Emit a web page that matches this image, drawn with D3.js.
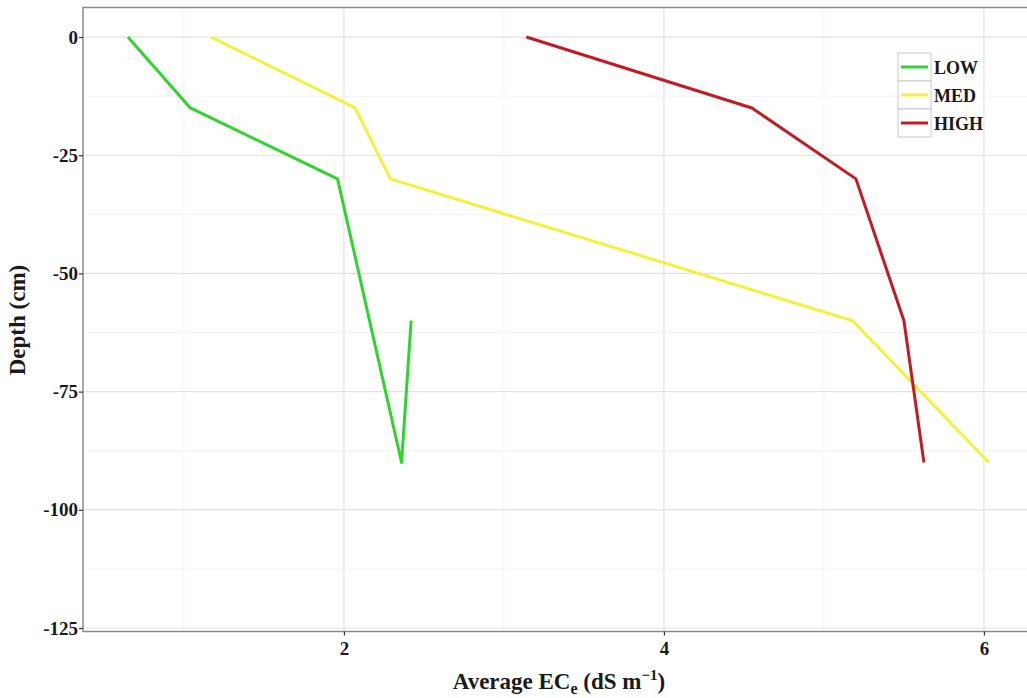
<!DOCTYPE html>
<html>
<head>
<meta charset="utf-8">
<script src="https://cdn.jsdelivr.net/npm/d3@7"></script>
<style>
  html, body { margin: 0; padding: 0; background: #fff; }
  svg text { font-family: "Liberation Serif", "Times New Roman", serif; font-weight: bold; fill: #1a1a1a; }
</style>
</head>
<body>
<svg id="chart" width="1027" height="698"></svg>
<script>
// Salinity profiles: average ECe by depth for three salinity classes
const seriesNames = ["LOW", "MED", "HIGH"];
const seriesColors = ["#2ed52e", "#f2f23a", "#c41a24"];
const depths = [0, -15, -30, -60, -90];
const lowEC  = [0.65, 1.04, 1.96, 2.42, 2.36];
const medEC  = [1.17, 2.07, 2.29, 5.18, 6.03];
const highEC = [3.14, 4.55, 5.20, 5.50, 5.625];
const xTicks = [2, 4, 6];
const yTicks = [0, -25, -50, -75, -100, -125];
const xMinor = [1, 3, 5];
const yMinor = [-12.5, -37.5, -62.5, -87.5, -112.5];

const svg = d3.select("#chart");
const pLeft = 83, pRight = 1030, pTop = 7.5, pBottom = 631.5;

const x = d3.scaleLinear().domain([0.369, 6.288]).range([pLeft, pRight]);
const y = d3.scaleLinear().domain([6.25, -125.74]).range([pTop, pBottom]);

// Gridlines
const grid = svg.append("g");
grid.selectAll(".ym").data(yMinor).join("line")
  .attr("x1", pLeft).attr("x2", pRight).attr("y1", d => y(d)).attr("y2", d => y(d))
  .attr("stroke", "#f3f3f3").attr("stroke-width", 1);
grid.selectAll(".xm").data(xMinor).join("line")
  .attr("y1", pTop).attr("y2", pBottom).attr("x1", d => x(d)).attr("x2", d => x(d))
  .attr("stroke", "#f3f3f3").attr("stroke-width", 1);
grid.selectAll(".yM").data(yTicks).join("line")
  .attr("x1", pLeft).attr("x2", pRight).attr("y1", d => y(d)).attr("y2", d => y(d))
  .attr("stroke", "#e2e2e2").attr("stroke-width", 1.2);
grid.selectAll(".xM").data(xTicks).join("line")
  .attr("y1", pTop).attr("y2", pBottom).attr("x1", d => x(d)).attr("x2", d => x(d))
  .attr("stroke", "#e2e2e2").attr("stroke-width", 1.2);

// Series lines
const series = [lowEC, medEC, highEC].map((vals, i) => ({
  name: seriesNames[i], color: seriesColors[i],
  pts: vals.map((v, j) => ({ ec: v, depth: depths[j] })).sort((a, b) => a.ec - b.ec)
}));
const line = d3.line().x(d => x(d.ec)).y(d => y(d.depth));
svg.append("g").selectAll("path").data(series).join("path")
  .attr("d", d => line(d.pts))
  .attr("fill", "none").attr("stroke", d => d.color)
  .attr("stroke-width", 3).attr("stroke-linejoin", "round");

// Panel border (top, left, bottom)
svg.append("path")
  .attr("d", `M${pRight},${pTop}H${pLeft}V${pBottom}H${pRight}`)
  .attr("fill", "none").attr("stroke", "#8a8a8a").attr("stroke-width", 1.5);

// Axes
const yAxis = svg.append("g").attr("transform", `translate(${pLeft},0)`)
  .call(d3.axisLeft(y).tickValues(yTicks).tickSize(4).tickPadding(1).tickFormat(d3.format("d")));
const xAxis = svg.append("g").attr("transform", `translate(0,${pBottom})`)
  .call(d3.axisBottom(x).tickValues(xTicks).tickSize(4).tickPadding(6).tickFormat(d3.format("d")));
[yAxis, xAxis].forEach(a => {
  a.select(".domain").remove();
  a.selectAll(".tick line").attr("stroke", "#333").attr("stroke-width", 1.2);
  a.selectAll(".tick text").style("font-size", "19px").attr("fill", "#1a1a1a");
});
yAxis.selectAll(".tick text").text(d => d === 0 ? "0" : "-" + Math.abs(d));

// Axis titles
svg.append("text")
  .attr("transform", `translate(25,320) rotate(-90)`)
  .attr("text-anchor", "middle")
  .style("font-size", "23px")
  .text("Depth (cm)");

const xt = svg.append("text")
  .attr("x", 559).attr("y", 689)
  .attr("text-anchor", "middle")
  .style("font-size", "23px");
xt.append("tspan").text("Average EC");
xt.append("tspan").attr("dy", 5).style("font-size", "16px").text("e");
xt.append("tspan").attr("dy", -5).text(" (dS m");
xt.append("tspan").attr("dy", -9).style("font-size", "15px").text("\u22121");
xt.append("tspan").attr("dy", 9).text(")");

// Legend
const legend = svg.append("g").attr("transform", "translate(898,53)");
const keyH = 28, keyW = 33;
const items = legend.selectAll("g").data(series).join("g")
  .attr("transform", (d, i) => `translate(0,${i * keyH})`);
items.append("rect").attr("width", keyW).attr("height", keyH)
  .attr("fill", "#fff").attr("stroke", "#c8c8c8").attr("stroke-width", 1);
items.append("line").attr("x1", 3).attr("x2", keyW - 3)
  .attr("y1", keyH / 2).attr("y2", keyH / 2)
  .attr("stroke", d => d.color).attr("stroke-width", 3);
items.append("text").attr("x", keyW + 3).attr("y", keyH / 2 + 7)
  .style("font-size", "18px").text(d => d.name);
</script>
</body>
</html>
